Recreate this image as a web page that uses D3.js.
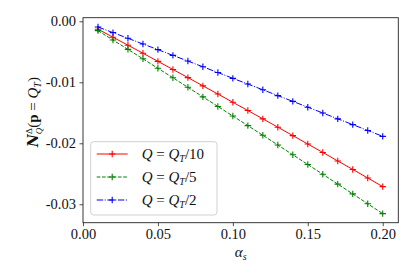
<!DOCTYPE html>
<html><head><meta charset="utf-8">
<script src="https://cdn.jsdelivr.net/npm/d3@7"></script>
<style>body{margin:0;background:#fff}svg{display:block}text{font-family:"Liberation Serif","DejaVu Serif",serif}</style>
</head><body><svg id="c" width="415" height="277"></svg>
<script>
const alphaS = [0.01,0.02,0.03,0.04,0.05,0.06,0.07,0.08,0.09,0.10,0.11,0.12,0.13,0.14,0.15,0.16,0.17,0.18,0.19,0.20];
const qT10 = [-0.00130,-0.00261,-0.00392,-0.00524,-0.00657,-0.00790,-0.00923,-0.01058,-0.01192,-0.01328,-0.01463,-0.01600,-0.01736,-0.01874,-0.02012,-0.02150,-0.02290,-0.02429,-0.02569,-0.02710];
const qT5 = [-0.00153,-0.00307,-0.00461,-0.00615,-0.00771,-0.00926,-0.01082,-0.01239,-0.01396,-0.01553,-0.01711,-0.01869,-0.02028,-0.02188,-0.02348,-0.02508,-0.02669,-0.02830,-0.02992,-0.03154];
const qT2 = [-0.00093,-0.00186,-0.00279,-0.00372,-0.00465,-0.00559,-0.00652,-0.00746,-0.00840,-0.00935,-0.01029,-0.01123,-0.01218,-0.01313,-0.01408,-0.01503,-0.01599,-0.01694,-0.01790,-0.01886];
const xTicks = [0.00,0.05,0.10,0.15,0.20];
const yTicks = [0.00,-0.01,-0.02,-0.03];
const yTickLabels = ["0.00","-0.01","-0.02","-0.03"];
const seriesNames = ["10","5","2"];
const seriesColors = ["#ff0000","#008000","#0000ff"];
const seriesDash = ["none","3.7,1.6","6.4,1.6,1,1.6"];

const svg = d3.select("#c");
const L=83, R=398.3, T=17.7, B=222.7;
const x = d3.scaleLinear().domain([0,0.2104]).range([L,R]);
const y = d3.scaleLinear().domain([-0.03302,0.00059]).range([B,T]);

const series = [qT10,qT5,qT2];
const line = d3.line().x((d,i)=>x(alphaS[i])).y(d=>y(d));
series.forEach((s,k)=>{
  svg.append("path").attr("d",line(s)).attr("fill","none")
    .attr("stroke",seriesColors[k]).attr("stroke-width",1)
    .attr("stroke-dasharray",seriesDash[k]);
  const g = svg.append("g");
  s.forEach((v,i)=>{
    const cx=x(alphaS[i]), cy=y(v);
    g.append("path").attr("d",`M${cx-3.2},${cy}H${cx+3.2}M${cx},${cy-3.2}V${cy+3.2}`)
      .attr("stroke",seriesColors[k]).attr("stroke-width",1.1);
  });
});

// frame
svg.append("rect").attr("x",L).attr("y",T).attr("width",R-L).attr("height",B-T)
  .attr("fill","none").attr("stroke","#222").attr("stroke-width",0.9);

const fmt = d3.format(".2f");
const xa = svg.append("g").attr("transform",`translate(0,${B})`)
  .call(d3.axisBottom(x).tickValues(xTicks).tickFormat(fmt).tickSize(3.5).tickPadding(3));
const ya = svg.append("g").attr("transform",`translate(${L},0)`)
  .call(d3.axisLeft(y).tickValues(yTicks).tickFormat((d,i)=>yTickLabels[i]).tickSize(3.5).tickPadding(3.5));
[xa,ya].forEach(a=>{
  a.select(".domain").remove();
  a.selectAll("line").attr("stroke","#222").attr("stroke-width",0.8);
  a.selectAll("text").attr("font-size",14.5).attr("fill","#111")
   .style("font-family",'"Liberation Serif",serif');
});

// x label
svg.append("text").attr("x",(L+R)/2).attr("y",257).attr("text-anchor","middle")
  .attr("font-size",15).attr("fill","#111")
  .html('<tspan font-style="italic">α</tspan><tspan font-style="italic" font-size="10" dy="3">s</tspan>');

// y label
svg.append("text").attr("transform","translate(38,112) rotate(-90)").attr("text-anchor","middle")
  .attr("font-size",15).attr("fill","#111")
  .html('<tspan font-style="italic" font-weight="bold" style="font-family:\'DejaVu Serif\',serif" font-size="14">N</tspan><tspan font-size="9" dy="-6">Δ</tspan><tspan font-size="9" font-style="italic" dx="-6" dy="10">Q</tspan><tspan dy="-4">(</tspan><tspan font-weight="bold">p</tspan><tspan> = </tspan><tspan font-style="italic">Q</tspan><tspan font-style="italic" font-size="10" dy="3">T</tspan><tspan dy="-3">)</tspan>');

// legend
const lg = svg.append("g");
lg.append("rect").attr("x",90.7).attr("y",141.7).attr("width",126.3).attr("height",73.3)
  .attr("rx",3).attr("fill","#fff").attr("fill-opacity",0.85).attr("stroke","#ccc").attr("stroke-width",0.9);
const rows=[154,177,200];
seriesNames.forEach((n,k)=>{
  const yy=rows[k];
  lg.append("line").attr("x1",96.7).attr("x2",127.7).attr("y1",yy).attr("y2",yy)
    .attr("stroke",seriesColors[k]).attr("stroke-width",1).attr("stroke-dasharray",seriesDash[k]);
  lg.append("path").attr("d",`M${112.2-3.2},${yy}H${112.2+3.2}M112.2,${yy-3.2}V${yy+3.2}`)
    .attr("stroke",seriesColors[k]).attr("stroke-width",1.1);
  lg.append("text").attr("x",141.7).attr("y",yy+5).attr("font-size",15).attr("fill","#111")
    .html(`<tspan font-style="italic">Q</tspan><tspan> = </tspan><tspan font-style="italic">Q</tspan><tspan font-style="italic" font-size="10" dy="3">T</tspan><tspan dy="-3">/${n}</tspan>`);
});
</script></body></html>
